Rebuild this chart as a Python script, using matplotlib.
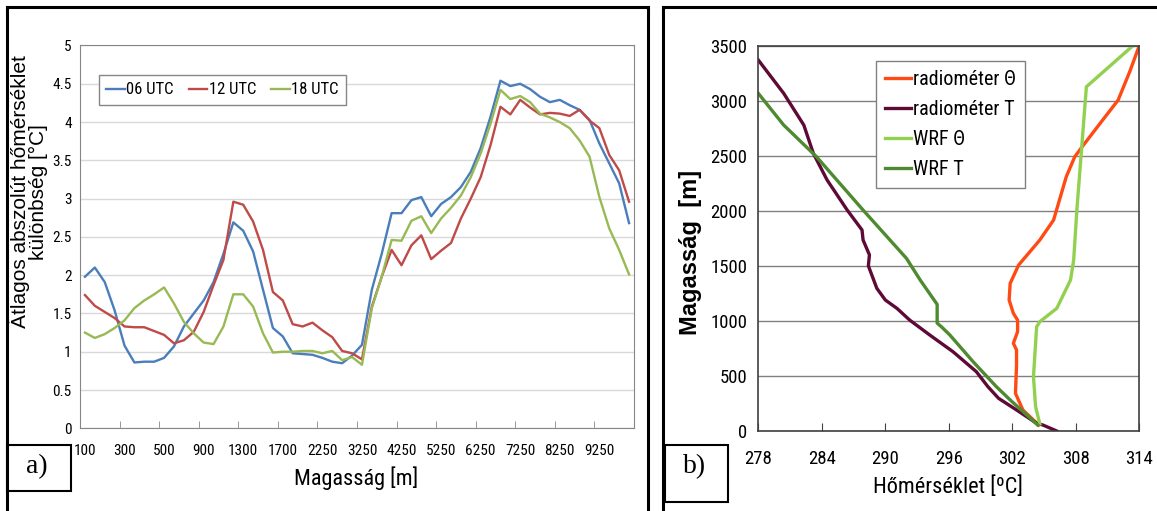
import numpy as np
import matplotlib
matplotlib.use("Agg")
import matplotlib.pyplot as plt
from matplotlib import font_manager
from matplotlib.lines import Line2D
from matplotlib.patches import Rectangle
from matplotlib.ticker import FuncFormatter


def pick_family(*names):
    """Return the first installed font family from names."""
    installed = {f.name for f in font_manager.fontManager.ttflist}
    for name in names:
        if name in installed:
            return name
    return "DejaVu Sans"


NARROW = pick_family("Liberation Sans Narrow", "Arial Narrow",
                     "Roboto Condensed", "Liberation Sans")
SANS = pick_family("Liberation Sans", "DejaVu Sans")
SERIF = pick_family("Liberation Serif", "DejaVu Serif")

# --- a) mean absolute temperature difference by height level ---
heights = [100, 150, 200, 250, 300, 350, 400, 450, 500, 600, 700, 800, 900,
           1000, 1100, 1200, 1300, 1400, 1500, 1600, 1700, 1850, 2000, 2100,
           2250, 2500, 2750, 3000, 3250, 3500, 3750, 4000, 4250, 4500, 4750,
           5000, 5250, 5500, 5750, 6000, 6250, 6500, 6750, 7000, 7250, 7500,
           7750, 8000, 8250, 8500, 8750, 9000, 9250, 9500, 9750, 10000]

utc06 = [1.98, 2.10, 1.91, 1.54, 1.08, 0.86, 0.87, 0.87, 0.92, 1.07, 1.33,
         1.50, 1.67, 1.91, 2.28, 2.69, 2.58, 2.31, 1.81, 1.31, 1.20, 0.98,
         0.97, 0.96, 0.92, 0.87, 0.85, 0.95, 1.09, 1.81, 2.28, 2.81, 2.81,
         2.98, 3.02, 2.77, 2.93, 3.02, 3.15, 3.35, 3.66, 4.07, 4.54, 4.47,
         4.50, 4.43, 4.33, 4.26, 4.29, 4.22, 4.16, 4.03, 3.72, 3.46, 3.20,
         2.68]
utc12 = [1.74, 1.60, 1.52, 1.44, 1.33, 1.32, 1.32, 1.27, 1.22, 1.11, 1.15,
         1.26, 1.52, 1.87, 2.20, 2.96, 2.92, 2.70, 2.33, 1.78, 1.67, 1.36,
         1.33, 1.38, 1.28, 1.19, 1.01, 0.98, 0.90, 1.59, 1.98, 2.33, 2.13,
         2.39, 2.52, 2.21, 2.32, 2.42, 2.74, 3.00, 3.28, 3.70, 4.20, 4.10,
         4.29, 4.19, 4.10, 4.12, 4.11, 4.08, 4.16, 4.02, 3.92, 3.57, 3.37,
         2.96]
utc18 = [1.25, 1.18, 1.23, 1.31, 1.41, 1.57, 1.67, 1.75, 1.84, 1.63, 1.39,
         1.24, 1.12, 1.10, 1.33, 1.75, 1.75, 1.59, 1.24, 0.99, 1.00, 1.00,
         1.01, 1.01, 0.98, 1.01, 0.89, 0.93, 0.83, 1.57, 1.98, 2.46, 2.45,
         2.71, 2.77, 2.55, 2.74, 2.88, 3.04, 3.28, 3.59, 3.98, 4.42, 4.30,
         4.34, 4.26, 4.11, 4.06, 4.00, 3.92, 3.76, 3.55, 3.02, 2.61, 2.33,
         2.01]
series_a = [("06 UTC", utc06, "#4A7EBB"),
            ("12 UTC", utc12, "#BE4B48"),
            ("18 UTC", utc18, "#98B954")]

# --- b) temperature profiles (T in K, height in m) ---
rad_theta_t = [314.0, 313.1, 312.0, 310.3, 308.6, 307.9, 307.1, 305.9, 304.6,
               302.6, 301.8, 301.7, 302.1, 302.5, 302.5, 302.1, 302.4, 302.4,
               302.3, 303.0, 304.5]
rad_theta_h = [3500, 3265, 3006, 2795, 2582, 2491, 2310, 1916, 1735, 1508,
               1341, 1190, 1069, 1008, 902, 797, 736, 600, 342, 191, 54]
rad_temp_t = [278.0, 280.4, 282.3, 283.2, 284.5, 286.4, 287.8, 287.9, 288.5,
              288.4, 289.2, 290.0, 291.1, 292.3, 294.2, 296.4, 298.6, 299.7,
              300.7, 302.4, 304.3, 304.9, 306.2]
rad_temp_h = [3370, 3067, 2779, 2522, 2280, 2007, 1826, 1735, 1600, 1500,
              1296, 1190, 1114, 1008, 872, 720, 539, 402, 297, 191, 70, 54, 0]
wrf_theta_t = [313.4, 309.0, 308.1, 307.8, 307.5, 306.2, 304.6, 304.3, 304.0,
               304.2, 304.6]
wrf_theta_h = [3500, 3127, 2007, 1553, 1371, 1114, 993, 947, 493, 221, 64]
wrf_temp_t = [278.0, 280.4, 283.5, 287.9, 292.0, 293.3, 294.9, 294.9, 295.3,
              296.1, 298.3, 300.5, 301.8, 304.4]
wrf_temp_h = [3067, 2779, 2491, 2007, 1568, 1371, 1150, 980, 947, 872, 629,
              402, 282, 55]
series_b = [("radiométer Θ", rad_theta_t, rad_theta_h, "#FF4A14"),
            ("radiométer T", rad_temp_t, rad_temp_h, "#5E0A36"),
            ("WRF Θ", wrf_theta_t, wrf_theta_h, "#92D050"),
            ("WRF T", wrf_temp_t, wrf_temp_h, "#4E8A30")]

W, H = 1157, 511
plt.rcParams["font.family"] = [NARROW, "DejaVu Sans"]
fig = plt.figure(figsize=(W / 100, H / 100), dpi=100)


def fx(x):
    return x / W


def fy(y):
    return 1 - y / H


# ---------------- panel a ----------------
ax1 = fig.add_axes([fx(80), fy(428.3), 554 / W, 382.8 / H])
idx = np.arange(len(heights))
for label, vals, color in series_a:
    ax1.plot(idx, vals, color=color, lw=1.7, label=label)

ax1.set_xlim(-0.5, len(heights) - 0.5)
ax1.set_ylim(0, 5)
ax1.set_yticks(np.arange(0, 5.01, 0.5))
ax1.yaxis.set_major_formatter(FuncFormatter(lambda v, _: f"{v:g}"))
ax1.set_xticks(idx[::4])
ax1.set_xticklabels([str(h) for h in heights[::4]])
ax1.set_xticks(np.arange(-0.5, len(heights), 4), minor=True)
ax1.grid(axis="y", color="#D9D9D9", lw=1)
ax1.set_axisbelow(True)
for sp in ax1.spines.values():
    sp.set_color("#868686")
ax1.tick_params(axis="y", length=0, pad=6, labelsize=11)
ax1.tick_params(axis="x", which="major", length=0, pad=11, labelsize=11)
ax1.tick_params(axis="x", which="minor", direction="in", length=5,
                color="#868686")
ax1.legend(loc="upper left", bbox_to_anchor=(0.034, 0.923), ncol=3,
           fontsize=12, handlelength=1.1, handletextpad=0.1,
           columnspacing=0.9, borderaxespad=0, borderpad=0.45,
           fancybox=False, edgecolor="#868686", framealpha=1)

fig.text(fx(356), fy(478), "Magasság [m]", fontsize=16, ha="center",
         va="center")
fig.text(fx(28), fy(192), "Átlagos abszolút hőmérséklet\nkülönbség [°C]",
         family=SANS, fontsize=15, rotation=90, ha="center", va="center",
         multialignment="center", linespacing=0.9)

# ---------------- panel b ----------------
ax2 = fig.add_axes([fx(758.3), fy(431), 381 / W, 385.3 / H])
for label, temps, hts, color in series_b:
    ax2.plot(temps, hts, color=color, lw=2.4, label=label)

ax2.set_xlim(278, 314)
ax2.set_ylim(0, 3500)
ax2.set_xticks(np.arange(278, 315, 6))
ax2.set_yticks(np.arange(0, 3501, 500))
ax2.grid(axis="y", color="#808080", lw=1)
ax2.set_axisbelow(True)
for sp in ax2.spines.values():
    sp.set_color("#404040")
    sp.set_linewidth(1.2)
ax2.tick_params(axis="x", direction="in", length=6, pad=14, labelsize=13.5,
                color="#404040")
ax2.tick_params(axis="y", length=0, pad=8, labelsize=13.5)
ax2.legend(loc="upper left", bbox_to_anchor=(0.309, 0.960), fontsize=14.5,
           handlelength=1.3, handletextpad=0.1, labelspacing=0.55,
           borderaxespad=0, borderpad=0.45, fancybox=False,
           edgecolor="#808080", framealpha=1)

fig.text(fx(948), fy(487), "Hőmérséklet [ºC]", fontsize=16, ha="center",
         va="center")
fig.text(fx(690), fy(252), "Magasság  [m]", family=SANS, fontsize=17,
         fontweight="bold", rotation=90, ha="center", va="center")

# ---------------- frames and panel tags ----------------
frame_kw = dict(color="black", lw=2.2, transform=fig.transFigure)
fig.add_artist(Line2D([fx(7), fx(7)], [fy(7), 0], **frame_kw))
fig.add_artist(Line2D([fx(7), fx(648)], [fy(7), fy(7)], **frame_kw))
fig.add_artist(Line2D([fx(648), fx(648)], [fy(7), 0], **frame_kw))
fig.add_artist(Line2D([fx(663), fx(663)], [fy(7), 0], **frame_kw))
fig.add_artist(Line2D([fx(663), 1], [fy(7), fy(7)], **frame_kw))

for (x0, y0, x1, y1), tag in [((7, 445, 71, 491), "a)"),
                              ((665, 445, 728, 502), "b)")]:
    fig.add_artist(Rectangle((fx(x0), fy(y1)), (x1 - x0) / W, (y1 - y0) / H,
                             transform=fig.transFigure, fill=False,
                             edgecolor="black", lw=1.5))
    fig.text(fx((x0 + x1) / 2 - 2), fy(467), tag, family=SERIF,
             fontsize=20, ha="center", va="center")

fig.savefig("out.png", dpi=100)
